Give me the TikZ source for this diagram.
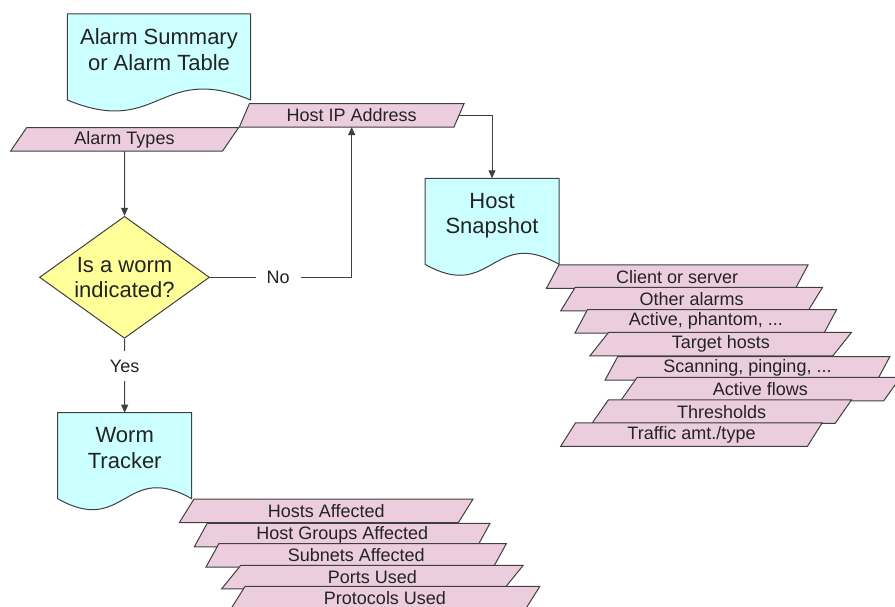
\documentclass[tikz,border=0pt]{standalone}
\usepackage{fontspec}
\setmainfont{Liberation Sans}
\usepackage{tikz}
\usetikzlibrary{shapes,arrows.meta,positioning,calc,backgrounds}
\definecolor{docCyan}{RGB}{204,255,255}
\definecolor{dataPink}{RGB}{235,205,221}
\definecolor{askYellow}{RGB}{255,255,153}
\definecolor{edgeGray}{RGB}{64,64,64}
\definecolor{inkGray}{RGB}{35,35,35}
\newcommand{\bigtxt}{\fontsize{22}{25.5}\selectfont}
\newcommand{\smalltxt}{\fontsize{18}{21}\selectfont}
% wavy document outline behind a node
\newcommand{\docoutline}[1]{%
  \draw[docline] (#1.north west) -- (#1.north east) -- ($(#1.north east)+(0,86)$)
    .. controls ($(#1.north)+(0,48)$) and ($(#1.north)+(0,124)$) .. ($(#1.north west)+(0,86)$) -- cycle;}

\begin{document}
\begin{tikzpicture}[x=1pt, y=-1pt,
    flow/.style={draw=edgeGray, line width=1pt, -{Triangle[length=8pt,width=7pt]}},
    docline/.style={draw=edgeGray, line width=1pt, fill=docCyan},
    docnode/.style={anchor=north, outer sep=0pt, inner xsep=0pt, inner ysep=15pt, align=center, font=\bigtxt, text=inkGray},
    datum/.style={trapezium, trapezium left angle=64, trapezium right angle=116, trapezium stretches=true,
      draw=edgeGray, line width=1pt, fill=dataPink, font=\smalltxt, text=inkGray,
      inner sep=0pt, outer sep=0pt, minimum height=23.5pt},
    ask/.style={diamond, draw=edgeGray, line width=1pt, fill=askYellow, font=\bigtxt, text=inkGray,
      align=center, inner sep=0pt, aspect=1.39, minimum width=170pt, minimum height=122pt},
    answer/.style={fill=white, font=\smalltxt, text=inkGray, inner xsep=11pt, inner ysep=9pt},
  ]
  \useasboundingbox (0,0) rectangle (895,607);
  \clip (0,0) rectangle (895,607);

  % documents
  \node[docnode, minimum width=183.4pt] (alarmDoc) at (159,14) {Alarm Summary\\or Alarm Table};
  \node[docnode, minimum width=134pt] (snapDoc) at (492,178.3) {Host\\Snapshot};
  \node[docnode, minimum width=134pt] (wormDoc) at (124.7,412.7) {Worm\\Tracker};

  % inputs
  \node[datum, minimum width=228pt] (alarmTypes) at (124.5,139.5) {Alarm Types};
  \node[datum, minimum width=225pt] (hostIP) at (351.7,115.3) {Host IP Address};

  % decision
  \node[ask] (isWorm) at (124.5,277.3) {Is a worm\\indicated?};

  % host snapshot fields
  \node[datum, minimum width=262pt] (clientSrv) at (677.2,276.7) {Client or server};
  \node[datum, minimum width=262pt] (otherAlarms) at (691.7,299) {Other alarms};
  \node[datum, minimum width=262pt] (activePhantom) at (705.8,321.3) {Active, phantom, ...};
  \node[datum, minimum width=262pt] (targetHosts) at (720.8,344) {Target hosts};
  \node[datum, minimum width=285pt] (scanPing) at (747.5,368.3) {Scanning, pinging, ...};
  \node[datum, minimum width=280pt] (activeFlows) at (760.4,389.2) {Active flows};
  \node[datum, minimum width=260pt] (thresholds) at (721.7,411.7) {Thresholds};
  \node[datum, minimum width=262pt] (trafficAmt) at (691.5,434.5) {Traffic amt./type};

  % worm tracker fields
  \node[datum, minimum width=294pt] (hostsAff) at (326.2,510.8) {Hosts Affected};
  \node[datum, minimum width=296pt] (groupsAff) at (342.2,535) {Host Groups Affected};
  \node[datum, minimum width=301pt] (subnetsAff) at (356.2,555.3) {Subnets Affected};
  \node[datum, minimum width=302pt] (portsUsed) at (372.5,577) {Ports Used};
  \node[datum, minimum width=310pt] (protoUsed) at (385,598.2) {Protocols Used};

  % connectors
  \draw[flow] (alarmTypes.south) -- (isWorm.north);
  \draw[flow] (isWorm.east) -| node[answer, pos=0.24] (noLbl) {No} (hostIP.south);
  \draw[flow] (isWorm.south) -- node[answer, pos=0.37] (yesLbl) {Yes} (wormDoc.north);
  \draw[flow] (hostIP.right side) -| (snapDoc.north);

  \begin{scope}[on background layer]
    \docoutline{alarmDoc}
    \docoutline{snapDoc}
    \docoutline{wormDoc}
  \end{scope}
\end{tikzpicture}
\end{document}
